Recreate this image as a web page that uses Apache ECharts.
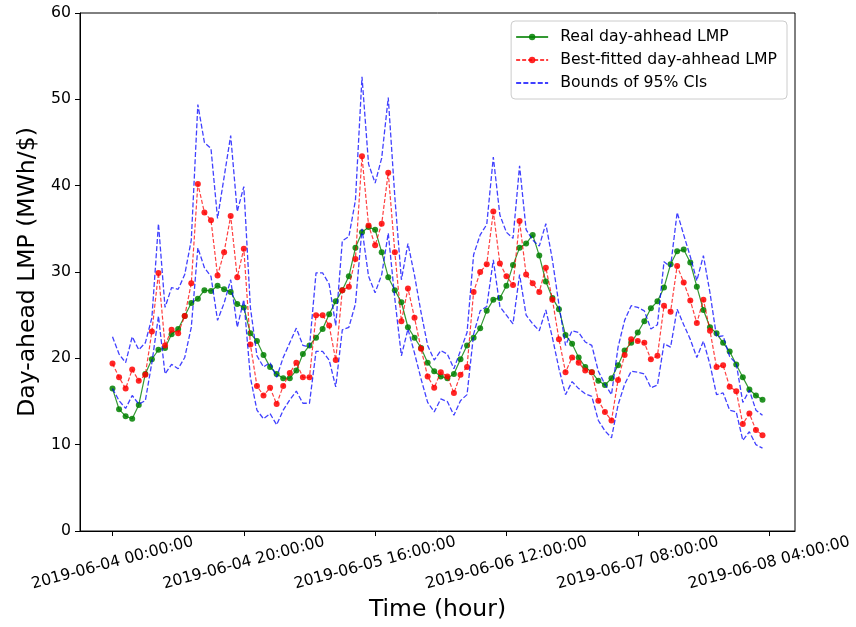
<!DOCTYPE html>
<html><head><meta charset="utf-8">
<script src="https://cdn.jsdelivr.net/npm/echarts@6/dist/echarts.min.js"></script>
<style>html,body{margin:0;padding:0;background:#fff}#c{width:856px;height:627px}</style>
</head><body><div id="c"></div>
<script>
// hourly data starting 2019-06-04 00:00:00
const realLMP = [16.5,14.1,13.3,13.0,14.6,18.2,19.9,21.0,21.2,22.8,23.4,24.9,26.4,26.9,27.9,27.8,28.4,28.0,27.7,26.3,
25.9,22.9,22.0,20.4,19.0,18.2,17.7,17.7,18.6,20.5,21.5,22.4,23.4,25.1,26.6,27.9,29.5,32.8,34.6,35.2,
34.9,32.3,29.4,27.9,26.5,23.6,22.4,21.2,19.5,18.5,17.9,17.7,18.2,19.9,21.5,22.4,23.5,25.5,26.8,27.0,
28.4,30.8,32.8,33.3,34.3,31.9,28.9,27.0,25.7,22.7,21.7,20.1,19.0,18.4,17.4,16.9,17.7,19.2,20.9,21.8,
23.0,24.3,25.8,26.6,28.2,30.9,32.4,32.6,31.1,28.3,25.6,23.6,22.9,21.8,20.8,19.3,17.8,16.4,15.7,15.2];
const fittedLMP = [19.4,17.8,16.5,18.7,17.4,18.1,23.1,29.9,21.5,23.3,22.9,24.9,28.7,40.2,36.9,36.0,29.6,32.3,36.5,29.4,
32.7,21.6,16.8,15.7,16.6,14.7,16.8,18.3,19.5,17.8,17.8,25.0,25.0,23.8,19.8,27.9,28.3,31.5,43.4,35.4,
33.1,35.6,41.5,32.3,24.3,28.1,24.7,21.1,17.9,16.6,18.4,17.9,16.0,18.1,19.0,27.7,30.0,30.9,37.0,31.0,
29.5,28.5,35.9,29.7,28.7,27.7,30.5,26.8,22.2,18.4,20.1,19.5,18.6,18.4,15.1,13.8,12.8,17.5,20.4,22.2,
22.0,21.8,19.9,20.3,26.1,25.4,30.7,28.8,26.7,24.1,26.8,23.2,19.0,19.2,16.7,16.2,12.4,13.6,11.7,11.1];
const upperCI = [22.5,20.5,19.5,22.5,21.0,21.8,24.7,35.6,25.9,28.2,28.0,29.7,33.7,49.4,45.0,44.3,36.2,41.0,45.8,37.0,
39.9,25.9,20.3,19.0,19.5,17.8,20.1,21.8,23.5,21.5,21.3,29.9,29.9,28.6,23.8,33.6,34.1,38.3,52.6,42.5,
40.3,43.2,50.2,38.7,29.1,33.3,29.6,25.3,21.5,19.8,20.9,20.5,18.8,20.9,23.0,32.0,34.3,35.5,43.3,36.6,
34.6,33.9,42.3,34.9,33.7,33.0,35.6,31.4,26.2,21.5,23.2,23.0,21.9,21.5,18.5,17.0,15.8,21.3,24.4,26.1,
25.9,25.5,23.4,23.9,31.2,30.6,36.9,34.3,31.8,29.0,31.9,27.6,22.5,22.6,20.2,19.4,14.9,16.3,14.0,13.4];
const lowerCI = [16.5,15.1,14.2,15.7,14.7,15.1,19.5,24.9,18.2,19.3,18.8,20.1,23.6,32.8,30.5,29.5,24.4,26.4,29.1,23.6,
26.8,17.8,14.0,13.0,13.6,12.3,14.0,15.2,16.2,14.8,14.8,20.8,20.8,19.8,16.7,23.3,23.6,26.3,35.0,29.5,
27.6,29.7,34.5,26.9,20.3,23.4,20.6,17.6,14.9,13.8,15.3,15.0,13.4,15.1,15.8,22.8,25.5,26.0,31.4,26.0,
25.0,24.0,29.7,25.0,24.0,23.2,25.6,22.4,18.8,15.8,17.3,16.5,15.9,15.6,12.8,11.6,10.8,14.6,17.0,18.5,
18.4,18.2,16.6,16.9,21.7,21.3,25.7,23.9,22.2,20.1,22.0,19.3,15.8,16.0,14.0,13.8,10.5,11.5,10.0,9.6];
const tickHours = [0,20,40,60,80,100];
const tickLabels = ['2019-06-04 00:00:00','2019-06-04 20:00:00','2019-06-05 16:00:00','2019-06-06 12:00:00','2019-06-07 08:00:00','2019-06-08 04:00:00'];
const yTicks = [0,10,20,30,40,50,60];
const names = ['Real day-ahhead LMP','Best-fitted day-ahhead LMP','Bounds of 95% CIs'];

const toPairs = arr => arr.map((v,i)=>[i,v]);
const FONT = 'DejaVu Sans';
const BLUE_DASH = [5,2.2];
const chart = echarts.init(document.getElementById('c'), null, {renderer:'canvas'});
chart.setOption({
  animation:false,
  backgroundColor:'#fff',
  grid:{left:80,right:61,top:13,bottom:92,show:true,borderColor:'#000',borderWidth:1,backgroundColor:'transparent'},
  xAxis:{type:'value',min:-4.95,max:103.95,
    name:'Time (hour)',nameLocation:'middle',nameGap:61,
    nameTextStyle:{fontSize:23.5,color:'#000',fontFamily:FONT},
    axisLine:{show:true,onZero:false,lineStyle:{color:'#000',width:1}},
    axisTick:{show:true,length:5,lineStyle:{color:'#000'},customValues:tickHours},
    axisLabel:{customValues:tickHours,formatter:v=>tickLabels[tickHours.indexOf(Math.round(v))],
      rotate:15,align:'center',verticalAlign:'middle',margin:32,fontSize:15.7,color:'#000',fontFamily:FONT},
    splitLine:{show:false}},
  yAxis:{type:'value',min:yTicks[0],max:yTicks[yTicks.length-1],interval:10,
    name:'Day-ahead LMP (MWh/$)',nameLocation:'middle',nameGap:37,
    nameTextStyle:{fontSize:23.5,color:'#000',fontFamily:FONT},
    axisLine:{show:true,onZero:false,lineStyle:{color:'#000',width:1}},
    axisTick:{show:true,length:5,lineStyle:{color:'#000'}},
    axisLabel:{margin:9,fontSize:15.7,color:'#000',fontFamily:FONT},
    splitLine:{show:false}},
  legend:{data:[
      {name:names[0]},
      {name:names[1]},
      {name:names[2],itemStyle:{opacity:0}}
    ],orient:'vertical',right:69,top:21,padding:[8,10,8,4],itemGap:7,
    itemWidth:32,itemHeight:8,backgroundColor:'rgba(255,255,255,0.8)',borderColor:'#cccccc',borderWidth:1,borderRadius:4,
    textStyle:{fontSize:15.7,color:'#000',fontFamily:FONT,padding:[0,0,0,7]}},
  series:[
    {name:names[0],type:'line',data:toPairs(realLMP),symbol:'circle',symbolSize:6,showSymbol:true,
     lineStyle:{color:'#008000',width:1.2,opacity:0.8},itemStyle:{color:'#008000',opacity:0.85},z:2},
    {name:names[1],type:'line',data:toPairs(fittedLMP),symbol:'circle',symbolSize:6,showSymbol:true,
     lineStyle:{color:'#ff0000',width:1.2,type:[4,2],opacity:0.75},itemStyle:{color:'#ff0000',opacity:0.85},z:3},
    {name:names[2],type:'line',data:toPairs(upperCI),symbol:'none',
     lineStyle:{color:'#0000ff',width:1.3,type:BLUE_DASH,opacity:0.75},itemStyle:{color:'#0000ff'},z:4},
    {name:names[2],type:'line',data:toPairs(lowerCI),symbol:'none',
     lineStyle:{color:'#0000ff',width:1.3,type:BLUE_DASH,opacity:0.75},itemStyle:{color:'#0000ff'},z:4}
  ]
});
</script></body></html>
